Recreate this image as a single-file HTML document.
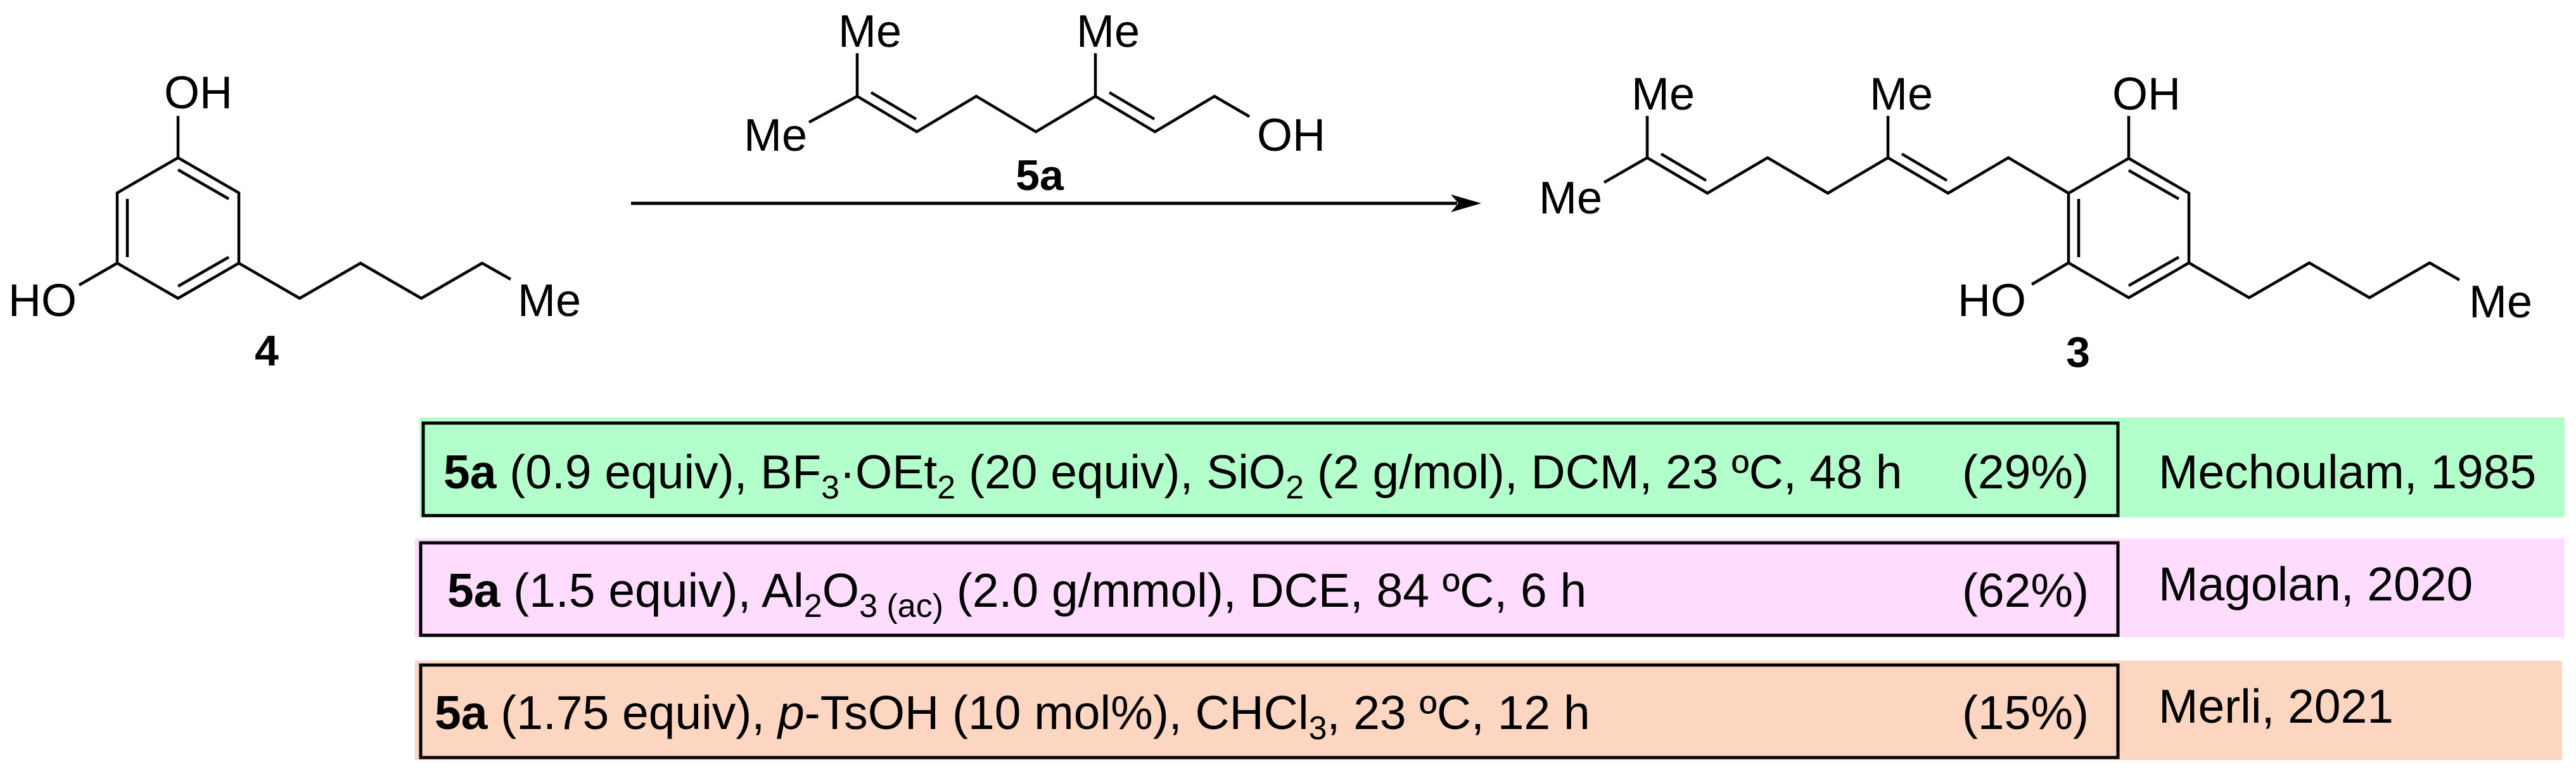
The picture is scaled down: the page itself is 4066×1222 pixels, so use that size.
<!DOCTYPE html>
<html><head><meta charset="utf-8"><style>
html,body{margin:0;padding:0;background:#fff;}
svg{display:block;}
text{font-family:"Liberation Sans",Arial,sans-serif;fill:#000;}
</style></head><body>
<svg width="4066" height="1222" viewBox="0 0 4066 1222" xmlns="http://www.w3.org/2000/svg">
<g stroke="#000" stroke-width="4.5" fill="none" stroke-linejoin="miter" stroke-linecap="butt">
<polygon points="281,249 377,304.5 377,415.5 281,471 185,415.5 185,304.5"/>
<line x1="281" y1="268" x2="361" y2="314"/>
<line x1="361" y1="406" x2="281" y2="452"/>
<line x1="201" y1="406" x2="201" y2="314"/>
<line x1="281" y1="249" x2="281" y2="183"/>
<line x1="185" y1="415.5" x2="125" y2="450"/>
<polyline points="377,415.5 473,471 569,415.5 665,471 761,415.5 806,441"/>
<polyline points="1277,193 1353,152 1447,208 1541,152 1635,208 1729,152 1823,208 1917,152 1972,184"/>
<line x1="1353" y1="152" x2="1353" y2="84"/>
<line x1="1729" y1="152" x2="1729" y2="84"/>
<line x1="1375" y1="146" x2="1446" y2="188"/>
<line x1="1751" y1="146" x2="1822" y2="188"/>
<polyline points="2532,288 2600,249 2695,305 2790,249 2885,305 2980,249 3075,305 3170,249 3265,305"/>
<line x1="2600" y1="249" x2="2600" y2="183"/>
<line x1="2980" y1="249" x2="2980" y2="183"/>
<line x1="2622" y1="243" x2="2693" y2="285"/>
<line x1="3002" y1="243" x2="3073" y2="285"/>
<polygon points="3360,250 3455,305 3455,415 3360,470 3265,415 3265,305"/>
<line x1="3360" y1="269" x2="3439" y2="314"/>
<line x1="3439" y1="406" x2="3360" y2="451"/>
<line x1="3281" y1="406" x2="3281" y2="314"/>
<line x1="3360" y1="250" x2="3360" y2="183"/>
<line x1="3265" y1="415" x2="3207" y2="449"/>
<polyline points="3455,415 3550,470 3645,415 3740,470 3835,415 3882,442"/>
</g>
<line x1="996" y1="321" x2="2300" y2="321" stroke="#000" stroke-width="5"/>
<polygon points="2338,321 2290,307 2302,321 2290,335" fill="#000"/>

<g font-size="72">
<text x="259" y="171">OH</text>
<text x="13" y="499">HO</text>
<text x="817" y="499">Me</text>
<text x="1174" y="238">Me</text>
<text x="1323" y="74">Me</text>
<text x="1699" y="74">Me</text>
<text x="1984" y="238">OH</text>
<text x="2429" y="337">Me</text>
<text x="2575" y="173">Me</text>
<text x="2951" y="173">Me</text>
<text x="3334" y="173">OH</text>
<text x="3090" y="499">HO</text>
<text x="3897" y="501">Me</text>
</g>
<g font-size="68" font-weight="bold" text-anchor="middle">
<text x="421" y="577">4</text>
<text x="1641" y="300">5a</text>
<text x="3280" y="579">3</text>
</g>

<rect x="662" y="659" width="3386" height="158" fill="#b3ffcc"/>
<rect x="668" y="668" width="2675" height="146" fill="none" stroke="#000" stroke-width="5"/>
<rect x="655" y="850" width="3393" height="156" fill="#fddcfd"/>
<rect x="664" y="857" width="2679" height="146" fill="none" stroke="#000" stroke-width="5"/>
<rect x="655" y="1043" width="3389" height="157" fill="#fcd6c1"/>
<rect x="664" y="1050" width="2679" height="146" fill="none" stroke="#000" stroke-width="5"/>

<g font-size="75">
<text x="700" y="771"><tspan font-weight="bold">5a</tspan> (0.9 equiv), BF<tspan dy="16" font-size="52">3</tspan><tspan dy="-16">·OEt</tspan><tspan dy="16" font-size="52">2</tspan><tspan dy="-16"> (20 equiv), SiO</tspan><tspan dy="16" font-size="52">2</tspan><tspan dy="-16"> (2 g/mol), DCM, 23 ºC, 48 h</tspan></text>
<text x="3297" y="771" text-anchor="end">(29%)</text>
<text x="3407" y="771">Mechoulam, 1985</text>

<text x="706" y="958"><tspan font-weight="bold">5a</tspan> (1.5 equiv), Al<tspan dy="16" font-size="52">2</tspan><tspan dy="-16">O</tspan><tspan dy="16" font-size="52">3 (ac)</tspan><tspan dy="-16"> (2.0 g/mmol), DCE, 84 ºC, 6 h</tspan></text>
<text x="3297" y="958" text-anchor="end">(62%)</text>
<text x="3407" y="948">Magolan, 2020</text>

<text x="686" y="1151"><tspan font-weight="bold">5a</tspan> (1.75 equiv), <tspan font-style="italic">p</tspan>-TsOH (10 mol%), CHCl<tspan dy="16" font-size="52">3</tspan><tspan dy="-16">, 23 ºC, 12 h</tspan></text>
<text x="3297" y="1151" text-anchor="end">(15%)</text>
<text x="3407" y="1141">Merli, 2021</text>
</g>
</svg>
</body></html>
